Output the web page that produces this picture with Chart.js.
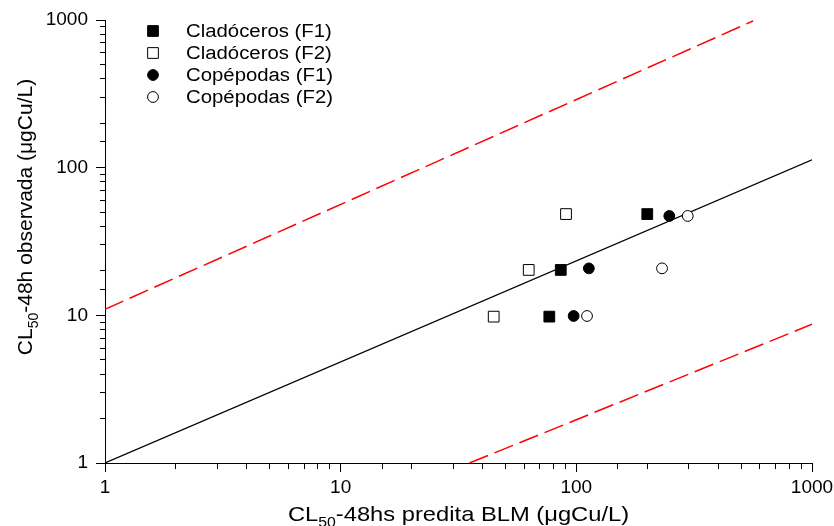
<!DOCTYPE html>
<html>
<head>
<meta charset="utf-8">
<script src="https://cdn.jsdelivr.net/npm/chart.js@4/dist/chart.umd.min.js"></script>
<style>
  html, body { margin: 0; padding: 0; background: #fff; }
  #wrap { width: 834px; height: 526px; }
</style>
</head>
<body>
<div id="wrap"><canvas id="chart" width="834" height="526"></canvas></div>
<script>
/* =========================================
   DATA
   ========================================= */
const decadeTicks = [1, 10, 100, 1000];

const cladF1X = [76.8, 85.9, 200];
const cladF1Y = [9.8, 20.3, 48.5];
const cladF2X = [44.6, 62.8, 90.4];
const cladF2Y = [9.8, 20.3, 48.5];
const copeF1X = [97.4, 113, 248];
const copeF1Y = [9.9, 20.8, 47.1];
const copeF2X = [111, 231, 297];
const copeF2Y = [9.9, 20.8, 47.1];

// reference lines: [start, end] as x / y pairs
const fitX = [1, 1000];
const fitY = [1, 113];
const upperX = [1, 562];
const upperY = [11, 985];
const lowerX = [35.2, 1000];
const lowerY = [1, 8.7];

const legendLabels = ['Cladóceros (F1)', 'Cladóceros (F2)', 'Copépodas (F1)', 'Copépodas (F2)'];

const FONT = '"Liberation Sans", Arial, sans-serif';
const STRETCH = 1.13;   // the original text is a bit wide

function toPoints(xs, ys) {
  return xs.map((x, i) => ({ x: x, y: ys[i] }));
}

/* =========================================
   PLUGINS: legend box + axis titles with subscript
   ========================================= */
const legendPlugin = {
  id: 'innerLegend',
  afterDraw(chart) {
    const ctx = chart.ctx;
    ctx.save();
    ctx.textBaseline = 'middle';
    chart.data.datasets.forEach(ds => {
      if (!ds.inLegend) return;
      const y = 31 + ds.legendRow * 22;
      ctx.fillStyle = ds.backgroundColor;
      ctx.strokeStyle = '#000';
      ctx.lineWidth = 1;
      ctx.beginPath();
      if (ds.pointStyle === 'rect') {
        const s = ds.pointRadius * Math.SQRT1_2;
        ctx.rect(153 - s, y - s, 2 * s, 2 * s);
      } else {
        ctx.arc(153, y, ds.pointRadius, 0, Math.PI * 2);
      }
      ctx.fill();
      ctx.stroke();
      ctx.save();
      ctx.translate(186, y + 1);
      ctx.scale(STRETCH, 1);
      ctx.font = '18px ' + FONT;
      ctx.fillStyle = '#000';
      ctx.fillText(ds.label, 0, 0);
      ctx.restore();
    });
    ctx.restore();
  }
};

function drawSubTitle(ctx, parts, cx, cy, sx) {
  // parts: [text, isSub]
  const big = '21px ' + FONT, small = '14px ' + FONT;
  let total = 0;
  parts.forEach(p => { ctx.font = p[1] ? small : big; total += ctx.measureText(p[0]).width; });
  ctx.save();
  ctx.translate(cx, cy);
  ctx.scale(sx, 1);
  let x = -total / 2;
  parts.forEach(p => {
    ctx.font = p[1] ? small : big;
    ctx.fillText(p[0], x, p[1] ? 6 : 0);
    x += ctx.measureText(p[0]).width;
  });
  ctx.restore();
}

const titlePlugin = {
  id: 'axisTitles',
  afterDraw(chart) {
    const ctx = chart.ctx;
    const a = chart.chartArea;
    ctx.save();
    ctx.fillStyle = '#000';
    ctx.textBaseline = 'alphabetic';
    drawSubTitle(ctx, [['CL', false], ['50', true], ['-48hs predita BLM (\u03BCgCu/L)', false]],
      (a.left + a.right) / 2, 521, STRETCH);
    ctx.translate(32, 217);
    ctx.rotate(-Math.PI / 2);
    drawSubTitle(ctx, [['CL', false], ['50', true], ['-48h observada (\u03BCgCu/L)', false]], 0, 0, 1);
    ctx.restore();
  }
};

/* =========================================
   CHART
   ========================================= */
function tickLabel(value) {
  return decadeTicks.includes(value) ? String(value) : '';
}

// minor ticks are shorter: dash the tick line so only the part next to the axis shows
function minorDashX(ctx) {
  return decadeTicks.includes(ctx.tick && ctx.tick.value) ? [] : [5, 100];
}
function minorDashY(ctx) {
  return decadeTicks.includes(ctx.tick && ctx.tick.value) ? [] : [0, 4, 5, 100];
}

const markerSet = (label, xs, ys, style, filled, row) => ({
  label: label,
  data: toPoints(xs, ys),
  pointStyle: style,
  pointRadius: style === 'rect' ? 7.6 : 5.4,
  backgroundColor: filled ? '#000' : '#fff',
  borderColor: '#000',
  borderWidth: 1,
  showLine: false,
  inLegend: true,
  legendRow: row
});

const lineSet = (xs, ys, color, width, dash) => ({
  label: '',
  data: toPoints(xs, ys),
  showLine: true,
  borderColor: color,
  borderWidth: width,
  borderDash: dash,
  pointRadius: 0,
  fill: false
});

new Chart(document.getElementById('chart'), {
  type: 'scatter',
  data: {
    datasets: [
      markerSet(legendLabels[0], cladF1X, cladF1Y, 'rect', true, 0),
      markerSet(legendLabels[1], cladF2X, cladF2Y, 'rect', false, 1),
      markerSet(legendLabels[2], copeF1X, copeF1Y, 'circle', true, 2),
      markerSet(legendLabels[3], copeF2X, copeF2Y, 'circle', false, 3),
      lineSet(fitX, fitY, '#000', 1.2, []),
      lineSet(upperX, upperY, '#ff0000', 1.5, [20, 7]),
      lineSet(lowerX, lowerY, '#ff0000', 1.5, [20, 7])
    ]
  },
  options: {
    responsive: false,
    devicePixelRatio: 1,
    animation: false,
    events: [],
    layout: { padding: { left: 0, right: 22, top: 20, bottom: 0 } },
    plugins: { legend: { display: false }, tooltip: { enabled: false } },
    scales: {
      x: {
        type: 'logarithmic', min: 1, max: 1000,
        afterFit: s => { s.height = 63; s.paddingLeft = 0; s.paddingRight = 0; },
        border: { display: true, color: '#000', width: 1 },
        grid: { drawOnChartArea: false, drawTicks: true, tickLength: 9, tickColor: '#000', tickBorderDash: minorDashX },
        ticks: { autoSkip: false, maxRotation: 0, minRotation: 0, padding: 4, color: '#000',
                 font: { family: FONT, size: 19 }, callback: tickLabel }
      },
      y: {
        type: 'logarithmic', min: 1, max: 1000,
        afterFit: s => { s.width = 105; s.paddingTop = 0; s.paddingBottom = 0; },
        border: { display: true, color: '#000', width: 1 },
        grid: { drawOnChartArea: false, drawTicks: true, tickLength: 9, tickColor: '#000', tickBorderDash: minorDashY },
        ticks: { autoSkip: false, padding: 8, color: '#000',
                 font: { family: FONT, size: 19 }, callback: tickLabel }
      }
    }
  },
  plugins: [legendPlugin, titlePlugin]
});
</script>
</body>
</html>
